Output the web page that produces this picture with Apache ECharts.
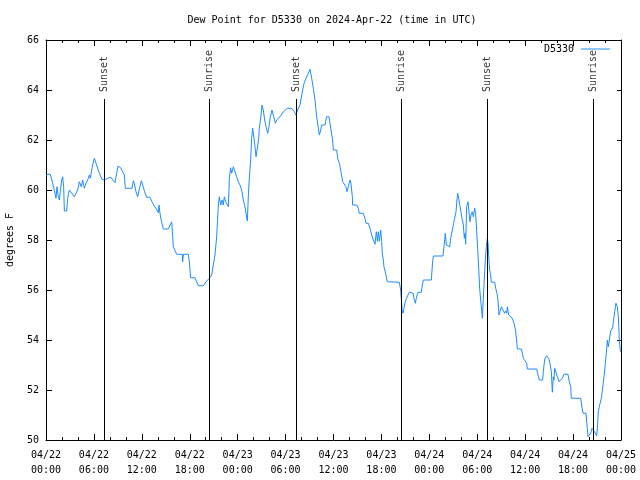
<!DOCTYPE html>
<html>
<head>
<meta charset="utf-8">
<script src="https://cdn.jsdelivr.net/npm/echarts@6/dist/echarts.min.js"></script>
<style>html,body{margin:0;padding:0;background:#fff;}#c{width:640px;height:480px;}</style>
</head>
<body>
<div id="c"></div>
<script>
// hours since 2024-04-22 00:00 UTC
var hours = [
0.00,0.21,0.50,0.63,0.83,1.13,1.25,1.38,1.50,1.67,1.79,1.96,2.09,2.21,2.30,2.59,2.71,2.92,3.13,3.55,3.76,3.96,4.17,4.30,4.42,4.59,4.80,5.01,5.22,5.43,5.55,5.68,5.84,6.05,6.26,6.47,6.68,7.01,7.30,7.72,8.14,8.35,8.64,8.85,9.02,9.18,9.39,9.60,9.81,9.93,10.77,10.94,11.10,11.27,11.48,11.69,11.94,12.10,12.35,12.60,13.02,13.27,13.56,13.90,14.07,14.15,14.27,14.44,
14.69,15.32,15.74,15.86,15.94,16.36,17.07,17.11,17.20,17.82,17.95,18.11,18.66,19.08,19.70,20.12,20.45,20.74,20.95,21.16,21.37,21.58,21.70,21.87,22.04,22.20,22.33,22.50,22.62,22.83,22.96,23.12,23.25,23.46,23.67,23.87,24.08,24.29,24.50,24.71,24.92,25.04,25.21,25.34,25.46,25.63,25.75,25.88,26.04,26.17,26.30,26.46,26.63,26.71,26.88,27.05,27.21,27.38,27.55,27.76,27.92,28.09,28.30,28.55,28.72,
28.88,29.30,29.72,30.22,30.76,31.10,31.30,31.51,31.80,32.01,32.14,32.31,32.56,32.85,33.06,33.18,33.27,33.47,33.68,33.89,34.10,34.23,34.39,34.52,34.93,35.14,35.44,35.56,35.69,35.89,35.98,36.40,36.52,36.73,36.90,37.15,37.31,37.56,37.69,37.86,38.07,38.19,38.27,38.36,38.40,38.90,39.11,39.23,39.73,39.94,40.07,40.36,40.57,40.78,40.99,41.20,41.36,41.49,41.61,41.74,41.91,42.03,42.11,42.24,42.32,42.57,42.74,44.24,
44.41,44.49,44.58,44.70,44.83,44.99,45.16,45.33,45.50,45.96,46.08,46.25,46.37,46.58,47.00,47.12,47.25,48.25,48.38,48.50,49.71,49.84,50.00,50.13,50.25,50.55,50.67,50.88,51.05,51.17,51.34,51.46,51.55,51.67,51.80,51.92,52.09,52.26,52.38,52.47,52.55,52.67,52.84,52.97,53.09,53.22,53.38,53.51,53.68,53.80,53.93,54.05,54.18,54.30,54.43,54.55,54.64,54.76,54.89,55.01,55.14,55.26,55.35,55.43,55.55,55.68,55.76,56.18,56.31,56.47,56.60,56.72,56.85,57.02,57.22,57.43,
57.56,57.68,57.77,57.93,58.18,58.39,58.60,58.81,58.94,59.02,59.52,59.65,59.77,59.98,60.19,60.27,61.44,61.61,61.77,62.19,62.27,62.36,62.48,62.69,62.82,62.94,63.11,63.28,63.40,63.53,63.61,63.69,63.90,64.03,64.24,64.45,64.65,64.86,65.36,65.53,65.70,65.78,66.95,67.07,67.24,67.62,67.70,67.78,67.87,68.03,68.20,68.37,68.62,68.79,68.95,69.04,69.16,69.33,69.54,69.70,69.87,70.00,70.16,70.29,70.41,70.54,70.71,70.96,71.04,71.21,71.37,71.54,71.67,71.79,71.92
];
var dewPoint = [
60.6,60.6,60.64,60.53,60.27,59.87,59.67,60.13,59.8,59.6,59.93,60.4,60.53,60.13,59.16,59.16,59.67,60.0,59.93,59.73,59.67,60.0,60.33,60.4,60.13,60.4,60.07,60.27,60.4,60.6,60.47,60.73,61.0,61.27,61.07,60.87,60.67,60.43,60.4,60.47,60.51,60.4,60.29,60.67,60.96,61.0,60.87,60.73,60.6,60.07,60.07,60.37,60.2,59.93,59.73,60.03,60.37,60.2,59.93,59.71,59.71,59.53,59.36,59.2,59.09,59.4,59.07,58.77,
58.44,58.44,58.73,58.2,57.73,57.43,57.43,57.13,57.43,57.43,57.13,56.49,56.49,56.17,56.17,56.36,56.47,56.6,57.0,57.4,58.13,59.4,59.73,59.4,59.6,59.4,59.73,59.53,59.6,59.33,60.47,60.89,60.67,60.93,60.73,60.53,60.33,60.2,60.0,59.6,59.33,59.07,58.76,59.8,60.47,61.2,62.07,62.47,62.07,61.73,61.33,61.67,62.07,62.47,62.87,63.4,63.2,62.8,62.53,62.27,62.53,62.93,63.2,63.13,62.67,
62.8,62.93,63.13,63.27,63.27,63.13,63.0,63.2,63.4,63.48,64.0,64.27,64.47,64.67,64.83,64.87,64.47,64.07,63.6,62.93,62.47,62.2,62.4,62.6,62.6,62.93,62.93,62.67,62.4,62.0,61.6,61.6,61.27,61.07,60.8,60.33,60.27,60.13,59.93,60.13,60.4,60.27,60.0,59.73,59.4,59.4,59.27,59.07,59.07,58.87,58.67,58.67,58.47,58.2,58.0,57.83,58.33,57.95,58.33,57.95,58.4,57.95,57.47,57.2,56.93,56.6,56.33,56.31,
56.0,55.67,55.2,55.07,55.29,55.53,55.67,55.8,55.91,55.87,55.67,55.47,55.67,55.91,55.91,56.2,56.4,56.4,57.0,57.36,57.36,57.73,58.27,57.8,57.73,57.73,58.07,58.4,58.67,58.87,59.13,59.6,59.87,59.67,59.73,59.2,58.87,58.6,58.07,58.27,57.83,59.33,59.53,59.6,58.73,59.0,59.13,58.93,59.27,59.07,58.33,57.67,56.87,56.07,55.6,55.2,54.87,55.67,56.47,57.2,57.73,58.07,57.87,57.4,56.8,56.6,56.31,56.31,56.07,55.87,55.6,55.0,55.13,55.33,55.2,55.07,
55.16,55.07,55.33,55.0,55.0,54.87,54.67,54.36,53.93,53.64,53.64,53.47,53.27,53.2,53.07,52.84,52.84,52.6,52.4,52.4,52.73,53.0,53.27,53.37,53.43,53.27,53.07,52.73,51.91,52.53,52.4,52.87,52.87,52.53,52.33,52.27,52.47,52.63,52.63,52.33,52.13,51.67,51.67,51.4,51.07,51.07,50.73,50.47,50.13,50.13,50.27,50.47,50.47,50.27,50.17,50.47,51.13,51.4,51.67,52.07,52.53,52.93,53.47,54.0,53.73,54.0,54.36,54.49,54.73,55.13,55.47,55.33,54.93,54.0,53.53
];
var xTickLabels = ["04/22\n00:00","04/22\n06:00","04/22\n12:00","04/22\n18:00","04/23\n00:00","04/23\n06:00","04/23\n12:00","04/23\n18:00","04/24\n00:00","04/24\n06:00","04/24\n12:00","04/24\n18:00","04/25\n00:00"];
var sunNames = ["Sunset","Sunrise","Sunset","Sunrise","Sunset","Sunrise"];
var sunHours = [7.30,20.45,31.34,44.49,55.26,68.53];
var sunLineTop = 63.64;

var FONT = "DejaVu Sans Mono";
var lineData = hours.map(function(h,i){return [h, dewPoint[i]];});
var markData = sunHours.map(function(h){return [{coord:[h,50]},{coord:[h,sunLineTop]}];});
var labelData = sunHours.map(function(h,i){return {value:[h,sunLineTop], name:sunNames[i]};});

var chart = echarts.init(document.getElementById('c'), null, {renderer:'canvas'});
var axisCommon = {
  axisLine:{show:true,onZero:false,lineStyle:{color:'#000',width:1}},
  axisTick:{show:true,inside:true,length:6,lineStyle:{color:'#000'}},
  minorTick:{show:true,splitNumber:3,length:3,lineStyle:{color:'#000'}},
  splitLine:{show:false}
};
chart.setOption({
  animation:false,
  backgroundColor:'#fff',
  title:{text:'Dew Point for D5330 on 2024-Apr-22 (time in UTC)',left:327,top:10,textAlign:'center',
    textStyle:{fontFamily:FONT,fontSize:10,fontWeight:'normal',color:'#000'}},
  legend:{show:true,right:25,top:39,align:'right',icon:'rect',itemWidth:29,itemHeight:1,itemGap:5,
    textStyle:{fontFamily:FONT,fontSize:10,color:'#000',padding:[0,2,0,0]},data:['D5330']},
  grid:{left:46,right:19,top:40,bottom:40,containLabel:false,outerBoundsMode:'none'},
  xAxis:[
    Object.assign({type:'value',min:0,max:72,interval:6,position:'bottom',
      axisLabel:{fontFamily:FONT,fontSize:10,color:'#000',lineHeight:15,margin:8,
        formatter:function(v){return xTickLabels[Math.round(v/6)];}}},axisCommon),
    Object.assign({type:'value',min:0,max:72,interval:6,position:'top',axisLabel:{show:false}},axisCommon)
  ],
  yAxis:[
    Object.assign({type:'value',min:50,max:66,interval:2,position:'left',name:'degrees F',nameLocation:'middle',nameGap:31,
      nameTextStyle:{fontFamily:FONT,fontSize:10,color:'#000'},
      axisLabel:{fontFamily:FONT,fontSize:10,color:'#000',margin:7}},axisCommon,{minorTick:{show:false}}),
    Object.assign({type:'value',min:50,max:66,interval:2,position:'right',axisLabel:{show:false}},axisCommon,{minorTick:{show:false},axisTick:{show:true,inside:true,length:4,lineStyle:{color:'#000'}}})
  ],
  series:[
    {name:'D5330',type:'line',data:lineData,symbol:'none',showSymbol:false,
      lineStyle:{color:'#1e8cff',width:1},itemStyle:{color:'#1e8cff'},z:3,
      markLine:{silent:true,symbol:['none','none'],label:{show:false},
        lineStyle:{color:'#000',width:1,type:'solid'},data:markData}},
    {name:'events',type:'scatter',data:labelData,symbolSize:0,silent:true,
      label:{show:true,formatter:function(p){return p.name;},rotate:90,position:'top',distance:7,
        align:'left',verticalAlign:'middle',fontFamily:FONT,fontSize:10,color:'#000'}}
  ]
});
</script>
</body>
</html>
